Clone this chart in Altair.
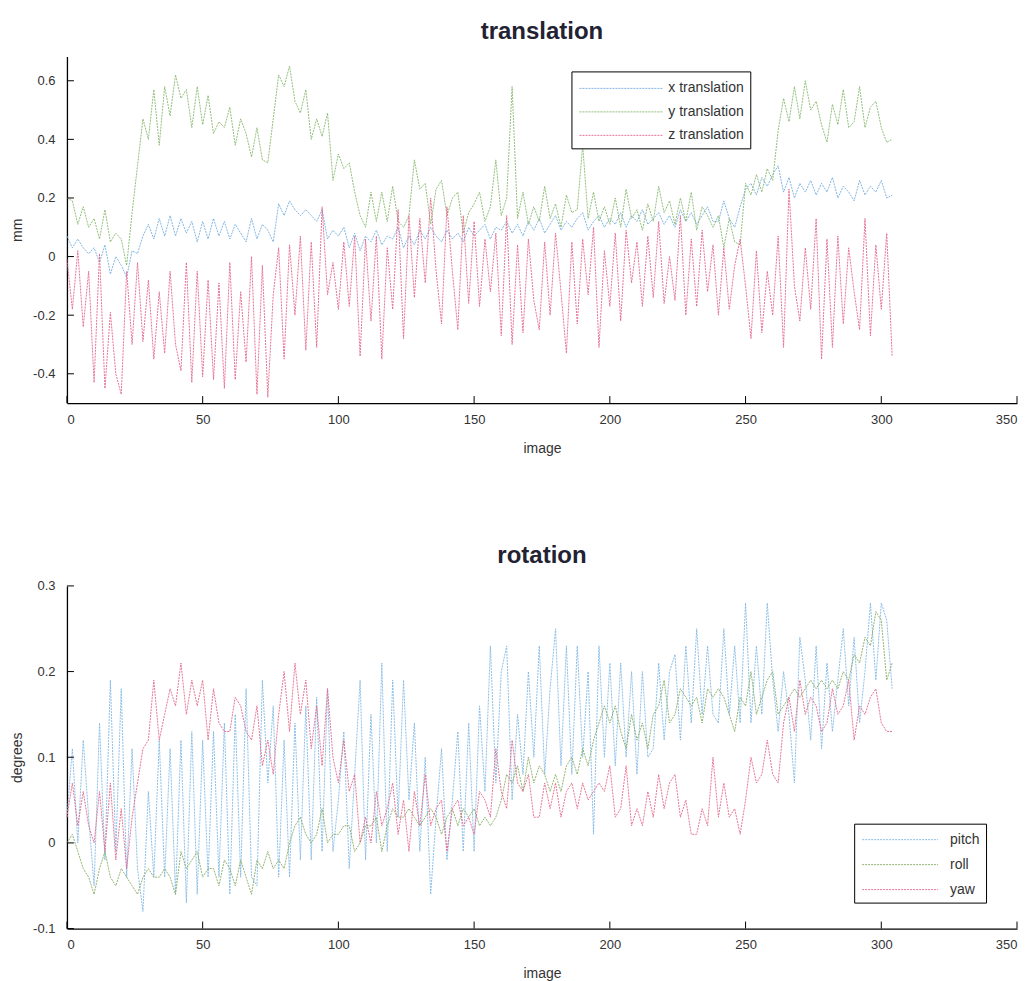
import altair as alt
import pandas as pd

# image index (every 2nd image, 0..304)
images = list(range(0, 305, 2))

x_translation = [
    0.07, 0.03, 0.06, 0.03, 0.01, 0.03, -0.02, 0.04, -0.06, 0.00,
    -0.03, -0.07, 0.02, 0.01, 0.07, 0.11, 0.06, 0.13, 0.07, 0.14,
    0.07, 0.13, 0.08, 0.12, 0.05, 0.12, 0.06, 0.13, 0.07, 0.12,
    0.06, 0.11, 0.08, 0.05, 0.13, 0.06, 0.11, 0.09, 0.05, 0.18,
    0.14, 0.19, 0.16, 0.14, 0.16, 0.14, 0.12, 0.16, 0.06, 0.09,
    0.07, 0.10, 0.03, 0.08, 0.02, 0.07, 0.05, 0.09, 0.04, 0.07,
    0.06, 0.10, 0.03, 0.07, 0.04, 0.09, 0.06, 0.10, 0.07, 0.05,
    0.09, 0.06, 0.08, 0.05, 0.10, 0.07, 0.09, 0.11, 0.06, 0.10,
    0.09, 0.12, 0.08, 0.11, 0.07, 0.12, 0.09, 0.13, 0.08, 0.11,
    0.14, 0.09, 0.12, 0.10, 0.13, 0.15, 0.09, 0.12, 0.14, 0.10,
    0.13, 0.11, 0.15, 0.10, 0.14, 0.12, 0.16, 0.11, 0.13, 0.15,
    0.11, 0.14, 0.10, 0.16, 0.12, 0.15, 0.11, 0.14, 0.17, 0.12,
    0.12, 0.19, 0.13, 0.10, 0.17, 0.23, 0.25, 0.21, 0.27, 0.24,
    0.28, 0.31, 0.22, 0.27, 0.20, 0.25, 0.22, 0.26, 0.21, 0.25,
    0.22, 0.27, 0.20, 0.24, 0.22, 0.19, 0.26, 0.21, 0.24, 0.22,
    0.26, 0.20, 0.21,
]

y_translation = [
    0.20, 0.19, 0.11, 0.17, 0.10, 0.13, 0.06, 0.16, 0.05, 0.08,
    0.06, -0.03, 0.15, 0.31, 0.47, 0.40, 0.57, 0.38, 0.58, 0.48,
    0.62, 0.54, 0.57, 0.44, 0.58, 0.45, 0.55, 0.42, 0.46, 0.44,
    0.51, 0.38, 0.47, 0.42, 0.34, 0.44, 0.33, 0.32, 0.47, 0.62,
    0.58, 0.65, 0.53, 0.49, 0.57, 0.40, 0.47, 0.41, 0.49, 0.26,
    0.35, 0.30, 0.32, 0.22, 0.14, 0.10, 0.22, 0.12, 0.22, 0.12,
    0.24, 0.12, 0.10, 0.14, 0.33, 0.23, 0.25, 0.11, 0.23, 0.26,
    0.14, 0.20, 0.22, 0.08, 0.15, 0.18, 0.22, 0.12, 0.17, 0.33,
    0.14, 0.20, 0.58, 0.13, 0.22, 0.11, 0.17, 0.12, 0.24, 0.13,
    0.18, 0.10, 0.21, 0.15, 0.16, 0.38, 0.13, 0.22, 0.12, 0.17,
    0.11, 0.20, 0.10, 0.23, 0.13, 0.16, 0.09, 0.18, 0.12, 0.24,
    0.15, 0.19, 0.11, 0.20, 0.12, 0.22, 0.09, 0.17, 0.14, 0.10,
    0.14, 0.03, 0.13, 0.05, 0.04, 0.25, 0.21, 0.28, 0.22, 0.30,
    0.26, 0.43, 0.54, 0.46, 0.58, 0.47, 0.60, 0.50, 0.53, 0.45,
    0.39, 0.52, 0.45, 0.57, 0.44, 0.46, 0.58, 0.44, 0.51, 0.53,
    0.44, 0.39, 0.40,
]

z_translation = [
    -0.01, -0.18, 0.02, -0.24, -0.05, -0.43, 0.01, -0.45, -0.19, -0.40,
    -0.47, -0.05, -0.30, -0.02, -0.29, -0.08, -0.35, -0.12, -0.33, -0.05,
    -0.30, -0.39, -0.02, -0.43, -0.05, -0.41, -0.08, -0.42, -0.09, -0.45,
    -0.02, -0.42, -0.12, -0.36, 0.00, -0.47, -0.03, -0.48, -0.13, 0.03,
    -0.35, 0.04, -0.20, 0.07, -0.32, 0.05, -0.31, 0.17, -0.13, -0.02,
    -0.18, 0.05, -0.17, 0.07, -0.34, 0.06, -0.22, 0.07, -0.35, 0.03,
    -0.18, 0.16, -0.28, 0.14, -0.14, 0.13, -0.09, 0.20, -0.05, -0.23,
    0.17, -0.05, -0.25, 0.14, -0.16, 0.12, -0.17, 0.06, -0.12, 0.08,
    -0.27, 0.14, -0.30, 0.04, -0.26, 0.06, -0.15, -0.25, 0.05, -0.20,
    0.08, -0.12, -0.33, 0.05, -0.23, 0.06, -0.13, 0.10, -0.31, 0.02,
    -0.17, 0.08, -0.22, 0.09, -0.09, 0.05, -0.17, 0.07, -0.14, 0.12,
    -0.16, 0.00, -0.15, 0.14, -0.20, 0.06, -0.17, 0.09, -0.12, 0.04,
    -0.20, 0.03, -0.18, -0.03, 0.06, -0.10, -0.28, 0.02, -0.26, -0.05,
    -0.20, 0.07, -0.31, 0.23, -0.10, -0.22, 0.03, -0.18, 0.13, -0.35,
    0.06, -0.31, 0.07, -0.23, 0.03, -0.12, -0.25, 0.13, -0.27, 0.04,
    -0.18, 0.08, -0.34,
]

pitch = [
    0.03, 0.11, 0.00, 0.12, 0.03, -0.05, 0.14, -0.02, 0.19, -0.01,
    0.18, -0.04, 0.11, -0.03, -0.08, 0.06, -0.04, 0.12, -0.04, 0.11,
    -0.06, 0.12, -0.07, 0.13, -0.06, 0.12, -0.04, 0.13, -0.04, 0.14,
    -0.06, 0.15, -0.04, 0.18, -0.04, -0.05, 0.19, 0.07, 0.16, -0.04,
    0.12, -0.04, 0.14, -0.02, 0.16, -0.02, 0.17, -0.01, 0.18, -0.01,
    0.05, 0.13, -0.03, 0.08, 0.19, -0.02, 0.15, 0.00, 0.21, -0.01,
    0.19, 0.03, 0.19, 0.05, 0.14, -0.01, 0.10, -0.06, 0.03, 0.11,
    -0.02, 0.05, 0.13, -0.01, 0.14, -0.01, 0.16, 0.06, 0.23, 0.07,
    0.20, 0.23, 0.05, 0.15, 0.08, 0.20, 0.10, 0.23, 0.08, 0.18,
    0.25, 0.09, 0.23, 0.08, 0.23, 0.10, 0.20, 0.01, 0.23, 0.10,
    0.21, 0.09, 0.21, 0.10, 0.20, 0.08, 0.20, 0.10, 0.11, 0.21,
    0.12, 0.20, 0.22, 0.12, 0.23, 0.14, 0.25, 0.15, 0.23, 0.15,
    0.14, 0.25, 0.15, 0.23, 0.14, 0.28, 0.14, 0.23, 0.15, 0.28,
    0.19, 0.13, 0.20, 0.15, 0.07, 0.24, 0.19, 0.12, 0.23, 0.11,
    0.21, 0.13, 0.19, 0.25, 0.16, 0.24, 0.14, 0.20, 0.28, 0.19,
    0.28, 0.26, 0.18,
]

roll = [
    0.00, 0.01, -0.01, -0.03, -0.04, -0.06, -0.03, -0.01, -0.04, -0.05,
    -0.03, -0.04, -0.05, -0.06, -0.04, -0.03, -0.04, -0.04, -0.03, -0.04,
    -0.06, -0.01, -0.03, -0.02, -0.01, -0.04, -0.03, -0.03, -0.05, -0.02,
    -0.03, -0.05, -0.02, -0.04, -0.06, -0.02, -0.03, -0.01, -0.03, -0.02,
    -0.03, 0.00, 0.02, 0.03, 0.01, 0.00, 0.01, 0.04, 0.00, 0.01,
    0.01, 0.02, 0.02, -0.01, 0.00, 0.02, 0.02, 0.03, -0.01, 0.02,
    0.04, 0.03, 0.03, 0.04, 0.03, 0.02, 0.03, 0.04, 0.03, 0.01,
    0.03, 0.04, 0.02, 0.04, 0.03, 0.04, 0.02, 0.03, 0.02, 0.03,
    0.05, 0.08, 0.07, 0.09, 0.06, 0.10, 0.07, 0.09, 0.08, 0.06,
    0.08, 0.06, 0.09, 0.10, 0.08, 0.11, 0.09, 0.12, 0.14, 0.16,
    0.14, 0.16, 0.13, 0.11, 0.15, 0.12, 0.14, 0.11, 0.15, 0.16,
    0.19, 0.14, 0.15, 0.18, 0.17, 0.16, 0.17, 0.14, 0.18, 0.17,
    0.18, 0.17, 0.15, 0.13, 0.17, 0.16, 0.20, 0.15, 0.17, 0.19,
    0.20, 0.15, 0.16, 0.17, 0.18, 0.17, 0.18, 0.19, 0.18, 0.19,
    0.18, 0.19, 0.18, 0.20, 0.19, 0.22, 0.21, 0.24, 0.23, 0.27,
    0.26, 0.19, 0.21,
]

yaw = [
    0.03, 0.07, 0.02, 0.06, 0.02, 0.00, 0.06, -0.01, 0.07, -0.02,
    0.04, -0.03, 0.03, 0.07, 0.11, 0.12, 0.19, 0.12, 0.15, 0.18,
    0.16, 0.21, 0.15, 0.19, 0.16, 0.19, 0.12, 0.18, 0.14, 0.13,
    0.13, 0.17, 0.16, 0.13, 0.12, 0.16, 0.09, 0.12, 0.08, 0.15,
    0.20, 0.13, 0.21, 0.15, 0.19, 0.11, 0.16, 0.09, 0.18, 0.10,
    0.07, 0.12, 0.06, 0.08, 0.00, 0.03, 0.00, 0.06, 0.02, 0.04,
    0.07, 0.01, 0.05, -0.01, 0.06, 0.02, 0.08, 0.02, 0.04, 0.05,
    -0.01, 0.04, 0.05, 0.02, 0.03, 0.01, 0.06, 0.05, 0.03, 0.11,
    0.06, 0.04, 0.12, 0.07, 0.06, 0.08, 0.03, 0.03, 0.07, 0.04,
    0.07, 0.03, 0.06, 0.07, 0.04, 0.07, 0.05, 0.06, 0.07, 0.06,
    0.09, 0.03, 0.04, 0.09, 0.02, 0.04, 0.02, 0.06, 0.03, 0.08,
    0.04, 0.07, 0.08, 0.03, 0.05, 0.01, 0.01, 0.04, 0.02, 0.10,
    0.03, 0.07, 0.03, 0.04, 0.01, 0.05, 0.10, 0.07, 0.08, 0.12,
    0.08, 0.07, 0.14, 0.17, 0.13, 0.19, 0.15, 0.17, 0.16, 0.13,
    0.14, 0.18, 0.15, 0.16, 0.19, 0.12, 0.16, 0.15, 0.17, 0.18,
    0.14, 0.13, 0.13,
]

translation_names = ["x translation", "y translation", "z translation"]
rotation_names = ["pitch", "roll", "yaw"]
translation_colors = ["#74aee0", "#86b86c", "#e3648a"]
rotation_colors = ["#80b8e4", "#86ad62", "#e3688a"]

x_ticks = [0, 50, 100, 150, 200, 250, 300, 350]
trans_ticks = [-0.4, -0.2, 0, 0.2, 0.4, 0.6]
rot_ticks = [-0.1, 0, 0.1, 0.2, 0.3]

W = 951
H_TOP = 347
H_BOT = 343
FONT = "Liberation Sans"


def long_frame(names, series):
    rows = []
    for name, vals in zip(names, series):
        for img, v in zip(images, vals):
            rows.append({"image": img, "value": v, "series": name})
    return pd.DataFrame(rows)


def panel(df, names, colors, ydomain, yticks, ytitle, title, height,
          legend_x, legend_y, sym_len, row_pad, label_gap):
    s = sym_len / 4.0
    size_expr = int(s + 1 + 0.999)
    sym_offset = 2 - size_expr / 2.0 + 2 * s
    label_offset = 2 * s + label_gap - size_expr / 2.0
    x_axis = alt.Axis(values=x_ticks, title="image", labelExpr="toString(datum.value)")
    y_axis = alt.Axis(values=yticks, title=ytitle, labelExpr="toString(datum.value)")
    x_scale = alt.Scale(domain=[0, 350], nice=False)
    y_scale = alt.Scale(domain=ydomain, nice=False, zero=False)
    lines = alt.Chart(df).mark_line(
        strokeWidth=1, strokeDash=[2, 1], opacity=0.9
    ).encode(
        x=alt.X("image:Q", scale=x_scale, axis=x_axis),
        y=alt.Y("value:Q", scale=y_scale, axis=y_axis),
        color=alt.Color(
            "series:N",
            scale=alt.Scale(domain=names, range=colors),
            legend=alt.Legend(
                title=None, orient="none", legendX=legend_x, legendY=legend_y,
                symbolType="M-4,0L4,0", symbolSize=s * s,
                symbolStrokeWidth=1, symbolDash=[2, 1],
                symbolOffset=sym_offset, labelOffset=label_offset,
                rowPadding=row_pad, padding=6,
                strokeColor="black", fillColor="white",
                labelFontSize=14, labelColor="#333", labelFont=FONT,
            ),
        ),
        order=alt.Order("series:N"),
    )
    xt = alt.Chart(pd.DataFrame({"image": x_ticks})).mark_rule(
        color="black", strokeWidth=1
    ).encode(
        x=alt.X("image:Q", scale=x_scale, axis=x_axis),
        y=alt.value(height), y2=alt.value(height - 7),
    )
    yt = alt.Chart(pd.DataFrame({"value": yticks})).mark_rule(
        color="black", strokeWidth=1
    ).encode(
        y=alt.Y("value:Q", scale=y_scale, axis=y_axis),
        x=alt.value(0), x2=alt.value(7),
    )
    return alt.layer(lines, xt, yt).properties(
        width=W, height=height,
        title=alt.TitleParams(title, fontSize=24, fontWeight="bold", color="#222233",
                              font=FONT, offset=12, anchor="middle"),
    )


trans_df = long_frame(translation_names, [x_translation, y_translation, z_translation])
rot_df = long_frame(rotation_names, [pitch, roll, yaw])

top = panel(trans_df, translation_names, translation_colors, [-0.5, 0.683],
            trans_ticks, "mm", "translation", H_TOP, 505, 15, 84, 5.5, 5)
bottom = panel(rot_df, rotation_names, rotation_colors, [-0.1, 0.3],
               rot_ticks, "degrees", "rotation", H_BOT, 788, 238, 76, 8, 12)

chart = alt.vconcat(top, bottom, spacing=89).resolve_scale(
    color="independent"
).resolve_legend(color="independent").properties(
    padding={"left": 2, "top": 12, "right": 5, "bottom": 5}
).configure_view(stroke=None).configure_axis(
    grid=False, ticks=False, domainColor="black", domainWidth=1.3,
    labelFont=FONT, titleFont=FONT, labelFontSize=13, titleFontSize=14,
    titleFontWeight="normal",
    labelColor="#333", titleColor="#333", labelPadding=12, titlePadding=8,
).configure_axisX(labelPadding=10, titlePadding=15)

chart.save("out.html", embed_options={"renderer": "svg", "actions": False})
